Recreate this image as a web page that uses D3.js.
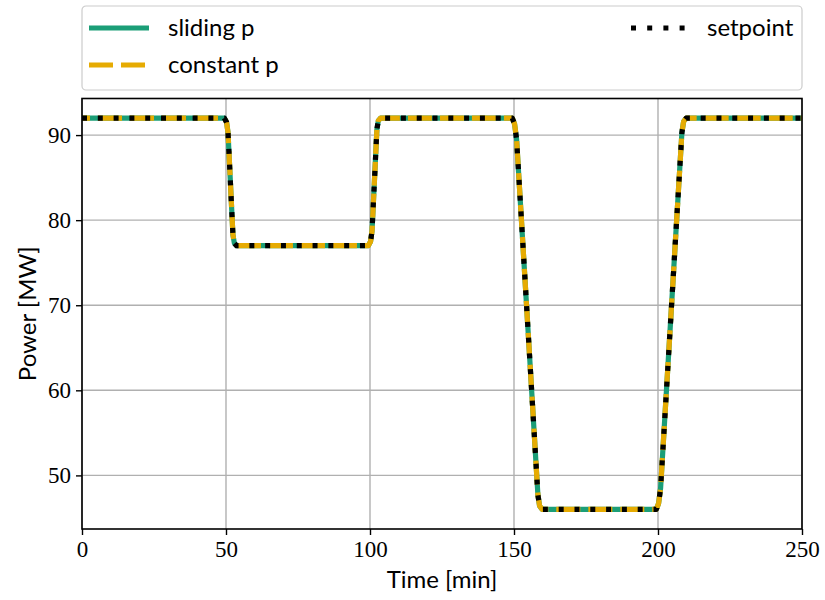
<!DOCTYPE html>
<html>
<head>
<meta charset="utf-8">
<script src="https://cdn.jsdelivr.net/npm/d3@7"></script>
<style>
  html, body { margin: 0; padding: 0; background: #fff; }
  svg { display: block; }
</style>
</head>
<body>
<svg id="chart" width="825" height="600"></svg>
<script>
// ---- data ----
const timeMin = [0, 49.4, 50.2, 50.7, 52.4, 52.9, 53.7, 99.4, 100.2, 100.7, 102.4, 102.9, 103.7,
                 149.4, 150.2, 150.9, 158.3, 158.9, 159.8, 199.4, 200.2, 200.9, 208.3, 208.9, 209.8, 250];
const slidingP = [92, 92, 91.5, 90.3, 78.3, 77.3, 77, 77, 77.5, 78.7, 90.7, 91.7, 92,
                  92, 91.3, 89.5, 47.7, 46.4, 46, 46, 46.7, 48.5, 90.3, 91.6, 92, 92];
const constantP = [92, 92, 91.5, 90.3, 78.3, 77.3, 77, 77, 77.5, 78.7, 90.7, 91.7, 92,
                   92, 91.3, 89.5, 47.7, 46.4, 46, 46, 46.7, 48.5, 90.3, 91.6, 92, 92];
const setpoint = [92, 92, 91.5, 90.3, 78.3, 77.3, 77, 77, 77.5, 78.7, 90.7, 91.7, 92,
                  92, 91.3, 89.5, 47.7, 46.4, 46, 46, 46.7, 48.5, 90.3, 91.6, 92, 92];
const xTicks = [0, 50, 100, 150, 200, 250];
const yTicks = [50, 60, 70, 80, 90];
const seriesNames = ["sliding p", "constant p", "setpoint"];
const seriesColors = ["#1b9e77", "#e6ab02", "#000000"];

// ---- layout ----
const svg = d3.select("#chart");
const L = 82, R = 802, T = 98.5, B = 529;
const x = d3.scaleLinear().domain([0, 250]).range([L, R]);
const y = d3.scaleLinear().domain([43.7, 94.3]).range([B, T]);

const serifFont = "'Liberation Serif', 'DejaVu Serif', serif";
const sansFont = "Lato, 'Noto Sans', sans-serif";

// grid
const g = svg.append("g");
g.selectAll(".gx").data(xTicks).join("line")
  .attr("x1", d => x(d)).attr("x2", d => x(d)).attr("y1", T).attr("y2", B)
  .attr("stroke", "#b0b0b0").attr("stroke-width", 1.4);
g.selectAll(".gy").data(yTicks).join("line")
  .attr("x1", L).attr("x2", R).attr("y1", d => y(d)).attr("y2", d => y(d))
  .attr("stroke", "#b0b0b0").attr("stroke-width", 1.4);

// lines
const pts = (vals) => timeMin.map((t, i) => [t, vals[i]]);
const line = d3.line().x(d => x(d[0])).y(d => y(d[1]));
svg.append("clipPath").attr("id", "clip").append("rect")
  .attr("x", L).attr("y", T).attr("width", R - L).attr("height", B - T);
const lg = svg.append("g").attr("clip-path", "url(#clip)");
lg.append("path").attr("d", line(pts(slidingP)))
  .attr("fill", "none").attr("stroke", seriesColors[0]).attr("stroke-width", 5.2)
  .attr("stroke-linejoin", "round");
lg.append("path").attr("d", line(pts(constantP)))
  .attr("fill", "none").attr("stroke", seriesColors[1]).attr("stroke-width", 5.2)
  .attr("stroke-linejoin", "round")
  .attr("stroke-dasharray", "24,8").attr("stroke-dashoffset", -16);
lg.append("path").attr("d", line(pts(setpoint)))
  .attr("fill", "none").attr("stroke", seriesColors[2]).attr("stroke-width", 5.2)
  .attr("stroke-linejoin", "round")
  .attr("stroke-dasharray", "5,10.8");

// axes
const xAxis = d3.axisBottom(x).tickValues(xTicks).tickSize(6).tickPadding(6).tickFormat(d3.format("d"));
const yAxis = d3.axisLeft(y).tickValues(yTicks).tickSize(6).tickPadding(5).tickFormat(d3.format("d"));
const ax = svg.append("g").attr("transform", `translate(0,${B})`).call(xAxis);
const ay = svg.append("g").attr("transform", `translate(${L},0)`).call(yAxis);
[ax, ay].forEach(a => {
  a.select(".domain").remove();
  a.selectAll(".tick line").attr("stroke", "#000").attr("stroke-width", 1.4);
  a.selectAll(".tick text").attr("fill", "#000").style("font-family", serifFont).style("font-size", "23px");
});
// spines
svg.append("rect").attr("x", L).attr("y", T).attr("width", R - L).attr("height", B - T)
  .attr("fill", "none").attr("stroke", "#000").attr("stroke-width", 1.6);

// axis labels
svg.append("text").attr("x", (L + R) / 2).attr("y", 588).attr("text-anchor", "middle")
  .style("font-family", sansFont).style("font-size", "24px").text("Time [min]");
svg.append("text").attr("transform", `translate(36,${(T + B) / 2}) rotate(-90)`).attr("text-anchor", "middle")
  .style("font-family", sansFont).style("font-size", "24px").text("Power [MW]");

// legend
const leg = svg.append("g");
leg.append("rect").attr("x", 82).attr("y", 6).attr("width", 720).attr("height", 84).attr("rx", 4)
  .attr("fill", "#fff").attr("fill-opacity", 0.8).attr("stroke", "#cccccc").attr("stroke-width", 1.2);
const legItems = [
  { name: seriesNames[0], color: seriesColors[0], dash: null, x0: 89, x1: 149, tx: 168, yy: 28 },
  { name: seriesNames[1], color: seriesColors[1], dash: "24,8", x0: 89, x1: 149, tx: 168, yy: 65 },
  { name: seriesNames[2], color: seriesColors[2], dash: "5,11.2", x0: 631, x1: 688, tx: 707, yy: 28 }
];
legItems.forEach(it => {
  const l = leg.append("line").attr("x1", it.x0).attr("x2", it.x1).attr("y1", it.yy).attr("y2", it.yy)
    .attr("stroke", it.color).attr("stroke-width", 5);
  if (it.dash) l.attr("stroke-dasharray", it.dash);
  leg.append("text").attr("x", it.tx).attr("y", it.yy + 8)
    .style("font-family", sansFont).style("font-size", "24px").text(it.name);
});
</script>
</body>
</html>
